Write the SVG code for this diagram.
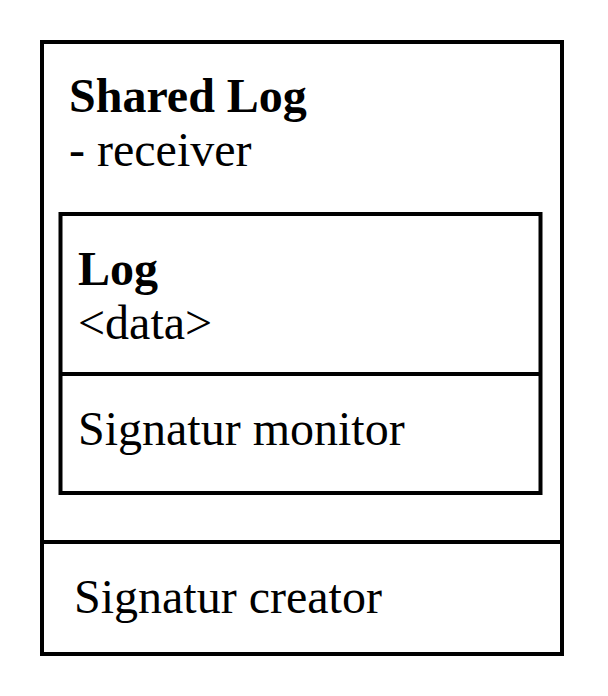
<svg xmlns="http://www.w3.org/2000/svg" width="608" height="696" viewBox="0 0 608 696">
<style>
.box{fill:#fff;stroke:#000;stroke-width:4}
.ln{stroke:#000;stroke-width:4}
text{font-family:"Liberation Serif","Times New Roman",serif;font-size:48px;fill:#000}
.b{font-weight:bold}
</style>
<rect width="608" height="696" fill="#fff"/>
<g id="shared-log">
<rect class="box" x="42" y="42" width="520" height="612"/>
<text class="b" x="69" y="112">Shared Log</text>
<text x="69" y="166">- receiver</text>
<line class="ln" x1="42" y1="542" x2="562" y2="542"/>
<text x="74" y="613">Signatur creator</text>
</g>
<g id="log">
<rect class="box" x="60.5" y="214" width="480" height="279"/>
<text class="b" x="78" y="285">Log</text>
<text x="78" y="339">&lt;data&gt;</text>
<line class="ln" x1="60.5" y1="374" x2="540.5" y2="374"/>
<text x="78" y="445">Signatur monitor</text>
</g>
<g id="connectors"/>
</svg>
